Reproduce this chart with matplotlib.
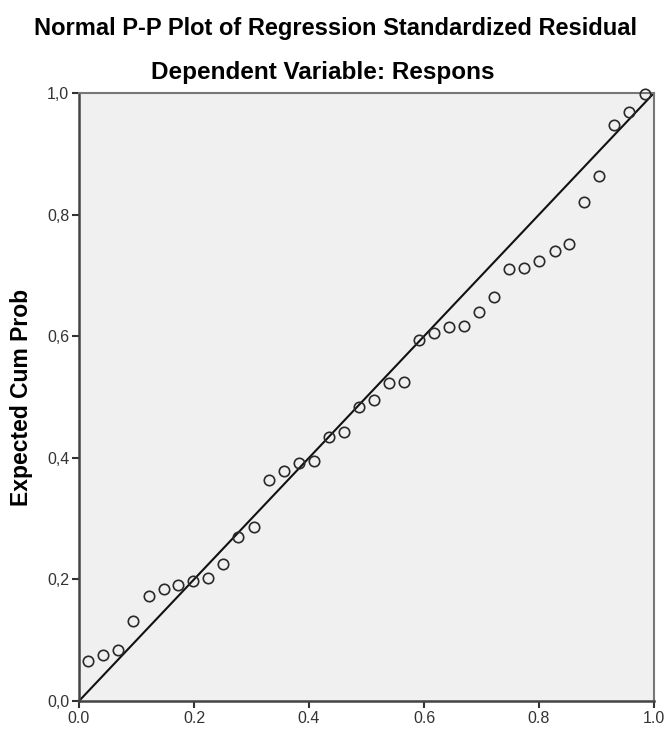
import matplotlib
matplotlib.use("Agg")
import matplotlib.pyplot as plt

observed = [0.016, 0.042, 0.068, 0.094, 0.121, 0.147, 0.173, 0.199, 0.225,
            0.251, 0.277, 0.304, 0.330, 0.356, 0.382, 0.408, 0.434, 0.460,
            0.487, 0.513, 0.539, 0.565, 0.591, 0.617, 0.643, 0.670, 0.696,
            0.722, 0.748, 0.774, 0.800, 0.827, 0.853, 0.879, 0.905, 0.931,
            0.957, 0.984]
expected = [0.066, 0.076, 0.084, 0.132, 0.172, 0.184, 0.191, 0.198, 0.203,
            0.226, 0.269, 0.286, 0.363, 0.379, 0.392, 0.395, 0.434, 0.442,
            0.483, 0.495, 0.523, 0.525, 0.593, 0.606, 0.615, 0.617, 0.639,
            0.665, 0.711, 0.712, 0.724, 0.740, 0.751, 0.821, 0.863, 0.947,
            0.969, 0.998]

x_ticks = [0.0, 0.2, 0.4, 0.6, 0.8, 1.0]
x_labels = ['0.0', '0.2', '0.4', '0.6', '0.8', '1.0']
y_ticks = [0.0, 0.2, 0.4, 0.6, 0.8, 1.0]
y_labels = ['0,0', '0,2', '0,4', '0,6', '0,8', '1,0']

plt.rcParams['font.family'] = ['Liberation Sans', 'DejaVu Sans']

fig = plt.figure(figsize=(6.66, 7.3), dpi=100)
ax = fig.add_axes([79 / 666, 1 - 701 / 730, 575 / 666, 608 / 730])
ax.set_facecolor('#F0F0F0')

# linea de referencia
ax.plot([0, 1], [0, 1], color='#111111', lw=1.5, zorder=2)

ax.plot(observed, expected, linestyle='none', marker='o', markersize=7.5,
        markerfacecolor='none', markeredgecolor='#2a2a2a', markeredgewidth=1.2,
        zorder=3, clip_on=False)

ax.set_xlim(0, 1)
ax.set_ylim(0, 1)
ax.set_xticks(x_ticks)
ax.set_xticklabels(x_labels)
ax.set_yticks(y_ticks)
ax.set_yticklabels(y_labels)
ax.tick_params(direction='out', length=5, width=1.5, color='#333333',
               labelsize=11.5, labelcolor='#333333', pad=2)

for side in ['left', 'bottom']:
    ax.spines[side].set_color('#444444')
    ax.spines[side].set_linewidth(1.8)
for side in ['top', 'right']:
    ax.spines[side].set_color('#777777')
    ax.spines[side].set_linewidth(1.5)

ax.set_ylabel('Expected Cum Prob', fontsize=16.5, fontweight='bold', labelpad=10)

fig.text(335.5 / 666, 1 - 28 / 730, 'Normal P-P Plot of Regression Standardized Residual',
         ha='center', va='center', fontsize=17, fontweight='bold')
fig.text(323 / 666, 1 - 73 / 730, 'Dependent Variable: Respons',
         ha='center', va='center', fontsize=17.5, fontweight='bold')

fig.savefig('out.png', dpi=100, facecolor='white')
